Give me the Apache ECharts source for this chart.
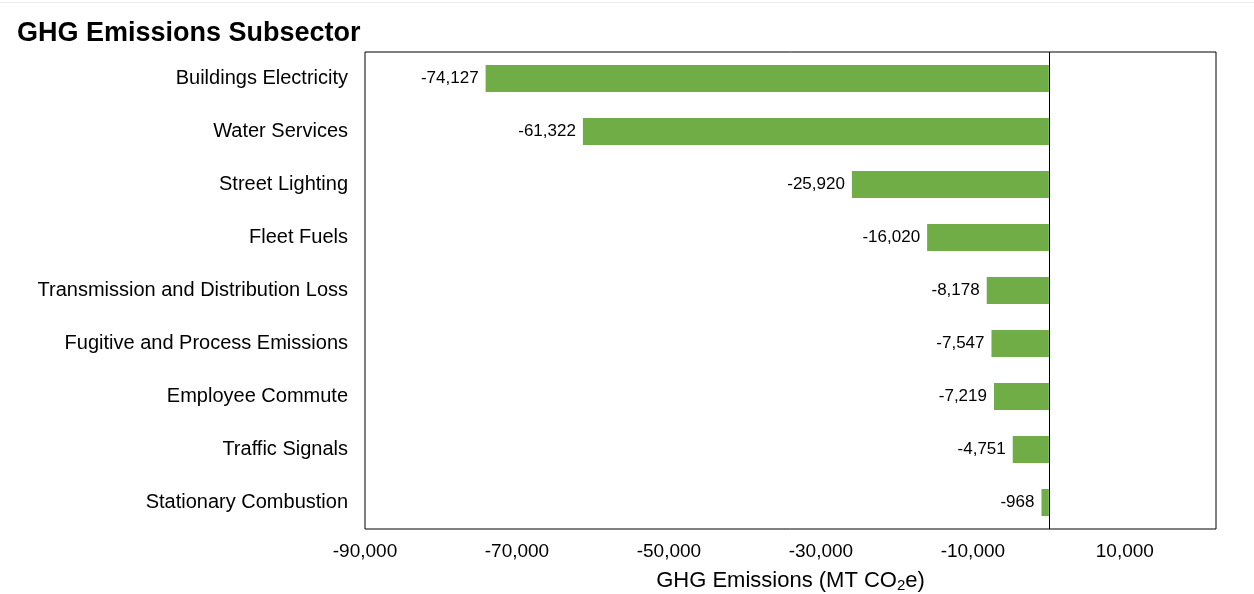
<!DOCTYPE html>
<html><head><meta charset="utf-8">
<script src="https://cdn.jsdelivr.net/npm/echarts@6/dist/echarts.min.js"></script>
<style>html,body{margin:0;padding:0;background:#fff}#c{width:1254px;height:594px}</style>
</head><body><div id="c"></div>
<script>
const categories = ["Buildings Electricity","Water Services","Street Lighting","Fleet Fuels","Transmission and Distribution Loss","Fugitive and Process Emissions","Employee Commute","Traffic Signals","Stationary Combustion"];
const values = [-74127,-61322,-25920,-16020,-8178,-7547,-7219,-4751,-968];
const shownTicks = [-90000,-70000,-50000,-30000,-10000,10000];
const fmt = v => v.toLocaleString('en-US');
const chart = echarts.init(document.getElementById('c'));
chart.setOption({
  animation:false,
  textStyle:{fontFamily:'Liberation Sans, Arial, sans-serif'},
  title:{text:'GHG Emissions Subsector',left:12,top:15,textStyle:{fontSize:27,fontWeight:'bold',color:'#000',fontFamily:'Liberation Sans, Arial, sans-serif'}},
  graphic:[{type:'line',shape:{x1:0,y1:2.5,x2:1254,y2:2.5},style:{stroke:'#eeeeee',lineWidth:1}}],
  grid:{left:365,right:38,top:52,bottom:65,show:true,borderColor:'#000',borderWidth:1,containLabel:false,outerBoundsMode:'none'},
  xAxis:{type:'value',min:-90000,max:22000,interval:10000,
    axisLine:{show:false},axisTick:{show:false},splitLine:{show:false},
    axisLabel:{color:'#000',fontSize:19,margin:13,showMaxLabel:false,
      formatter:v=>shownTicks.includes(v)?fmt(v):''},
    name:'{a|GHG Emissions (MT CO}{s|2}{a|e)}',nameLocation:'middle',nameGap:40,
    nameTextStyle:{rich:{a:{fontSize:22,color:'#000'},s:{fontSize:15,color:'#000',padding:[9,0,0,0]}}}
  },
  yAxis:{type:'category',data:categories,inverse:true,
    axisLine:{show:false},axisTick:{show:false},splitLine:{show:false},
    axisLabel:{color:'#000',fontSize:20,margin:17}},
  series:[{type:'bar',data:values,barWidth:27,itemStyle:{color:'#70AD47'},
    label:{show:true,position:'left',distance:7,color:'#000',fontSize:17,formatter:p=>fmt(p.value)},
    markLine:{silent:true,symbol:['none','none'],label:{show:false},
      lineStyle:{color:'#000',width:1,type:'solid'},data:[{xAxis:0}]}}]
});
</script></body></html>
